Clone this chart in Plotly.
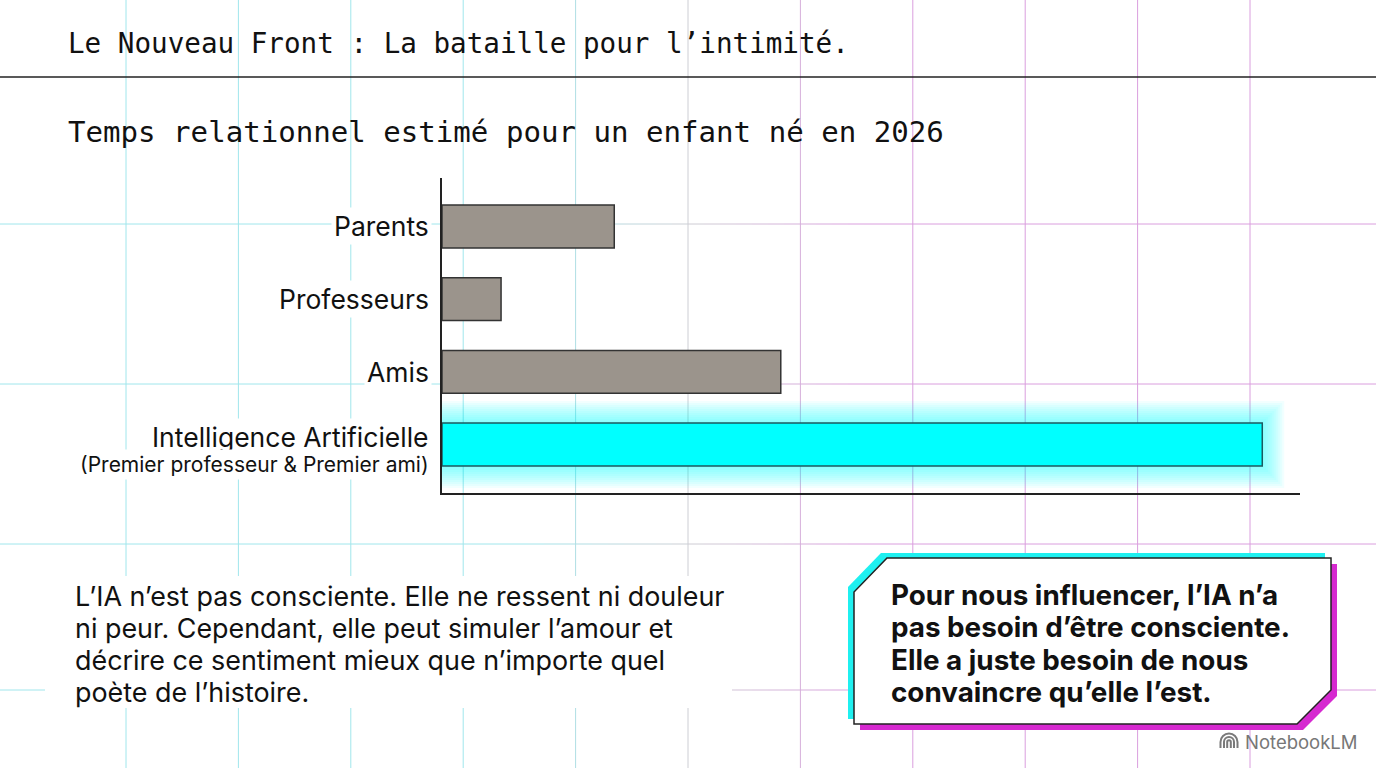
import plotly.graph_objects as go

W, H = 1376, 768

# ---------------- data ----------------
categories = ["Parents", "Professeurs", "Amis", "Intelligence Artificielle"]
sublabels = ["", "", "", "(Premier professeur &amp; Premier ami)"]
values = [21, 7.2, 41.3, 100]
highlight = [False, False, False, True]

title_text = "Le Nouveau Front : La bataille pour l’intimité."
subtitle_text = "Temps relationnel estimé pour un enfant né en 2026"
body_lines = [
    "L’IA n’est pas consciente. Elle ne ressent ni douleur",
    "ni peur. Cependant, elle peut simuler l’amour et",
    "décrire ce sentiment mieux que n’importe quel",
    "poète de l’histoire.",
]
quote_lines = [
    "Pour nous influencer, l’IA n’a",
    "pas besoin d’être consciente.",
    "Elle a juste besoin de nous",
    "convaincre qu’elle l’est.",
]
brand_text = "NotebookLM"

# ---------------- helpers ----------------
def px(x):
    return x / W


def py(y):
    return 1 - y / H


CYAN = (160, 230, 236)
GRAY = (206, 206, 212)
MAGENTA = (218, 158, 222)


def mix(a, b, t):
    return tuple(round(a[i] + (b[i] - a[i]) * t) for i in range(3))


def grid_color(x):
    if x <= 520:
        c = CYAN
    elif x <= 690:
        c = mix(CYAN, GRAY, (x - 520) / 170)
    elif x <= 860:
        c = mix(GRAY, MAGENTA, (x - 690) / 170)
    else:
        c = MAGENTA
    return "rgb(%d,%d,%d)" % c


shapes = []
# vertical grid lines
for i in range(11):
    x = 126 + 112.4 * i
    shapes.append(dict(type="line", xref="paper", yref="paper", x0=px(x), x1=px(x),
                       y0=0, y1=1, line=dict(color=grid_color(x), width=1), layer="below"))
# horizontal grid lines (gradient segments)
for yy in [224, 384, 544, 690]:
    step = 16
    x = 0
    while x < W:
        x2 = min(W, x + step)
        shapes.append(dict(type="line", xref="paper", yref="paper", x0=px(x), x1=px(x2),
                           y0=py(yy), y1=py(yy),
                           line=dict(color=grid_color((x + x2) / 2), width=1), layer="below"))
        x = x2

# white halo behind the paragraph block
shapes.append(dict(type="rect", xref="paper", yref="paper", x0=px(45), x1=px(732),
                   y0=py(708), y1=py(576), fillcolor="white", line=dict(width=0), layer="below"))

# header rule
shapes.append(dict(type="line", xref="paper", yref="paper", x0=0, x1=1, y0=py(77), y1=py(77),
                   line=dict(color="#222222", width=1.5), layer="below"))

# callout box with offset cyan / magenta shadows
box = [(887, 558), (1331, 558), (1331, 690), (1297, 724), (854, 724), (854, 592)]


def poly_path(pts, dx=0, dy=0):
    return "M " + " L ".join("%.5f,%.5f" % (px(x + dx), py(y + dy)) for x, y in pts) + " Z"


shapes.append(dict(type="path", xref="paper", yref="paper", path=poly_path(box, -6, -5),
                   fillcolor="#1ff0f0", line=dict(width=0), layer="above"))
shapes.append(dict(type="path", xref="paper", yref="paper", path=poly_path(box, 6, 6),
                   fillcolor="#d629d0", line=dict(width=0), layer="above"))
shapes.append(dict(type="path", xref="paper", yref="paper", path=poly_path(box),
                   fillcolor="white", line=dict(color="#222222", width=1.5), layer="above"))


# small NotebookLM logo (arched strokes with legs)
def arch(cx, cy, r, bottom):
    k = 0.5523 * r
    p = [(cx - r, bottom), (cx - r, cy), (cx - r, cy - k), (cx - k, cy - r), (cx, cy - r),
         (cx + k, cy - r), (cx + r, cy - k), (cx + r, cy), (cx + r, bottom)]
    c = [(px(a), py(b)) for a, b in p]
    flat = []
    for t in c:
        flat.extend(t)
    return ("M %.5f,%.5f L %.5f,%.5f C %.5f,%.5f %.5f,%.5f %.5f,%.5f "
            "C %.5f,%.5f %.5f,%.5f %.5f,%.5f L %.5f,%.5f" % tuple(flat))


for r in [8.5, 5, 1.8]:
    shapes.append(dict(type="path", xref="paper", yref="paper", path=arch(1229, 742, r, 748),
                       line=dict(color="#7a7a7a", width=2), layer="above"))

# ---------------- traces ----------------
fig = go.Figure()

norm_cats = [c for c, h in zip(categories, highlight) if not h]
norm_vals = [v for v, h in zip(values, highlight) if not h]
hi_cats = [c for c, h in zip(categories, highlight) if h]
hi_vals = [v for v, h in zip(values, highlight) if h]

BAR_W = 0.59
# soft glow for highlighted bar
for lw in [44, 40, 36, 32, 28, 24, 20, 16, 12, 8, 4]:
    fig.add_trace(go.Bar(x=hi_vals, y=hi_cats, orientation="h", width=BAR_W,
                         marker=dict(color="rgba(0,255,255,0.05)",
                                     line=dict(color="rgba(0,255,255,0.05)", width=lw)),
                         hoverinfo="skip", showlegend=False))

fig.add_trace(go.Bar(x=norm_vals, y=norm_cats, orientation="h", width=BAR_W,
                     marker=dict(color="#9b948c", line=dict(color="#333333", width=1.5)),
                     showlegend=False))
fig.add_trace(go.Bar(x=hi_vals, y=hi_cats, orientation="h", width=BAR_W,
                     marker=dict(color="#00ffff", line=dict(color="#1d5a60", width=1.5)),
                     showlegend=False))

# ---------------- annotations ----------------
SANS = "Inter, Roboto, sans-serif"
MONO = "DejaVu Sans Mono, Liberation Mono, monospace"
annotations = [
    dict(text=title_text, x=px(66), y=py(44), xref="paper", yref="paper",
         xanchor="left", yanchor="middle", showarrow=False,
         font=dict(family=MONO, size=27.6, color="#111111")),
    dict(text=subtitle_text, x=px(66), y=py(132), xref="paper", yref="paper",
         xanchor="left", yanchor="middle", showarrow=False,
         font=dict(family=MONO, size=29.1, color="#111111")),
    dict(text=brand_text, x=px(1243), y=py(742), xref="paper", yref="paper",
         xanchor="left", yanchor="middle", showarrow=False,
         font=dict(family=SANS, size=18.5, color="#777777")),
]

# category labels (placed through the y axis scale)
for c, s in zip(categories, sublabels):
    shift = 8 if s else 0
    annotations.append(dict(text=c, x=px(432), xref="paper", y=c, yref="y",
                            xanchor="right", yanchor="middle", showarrow=False, yshift=shift,
                            bgcolor="white", borderpad=2,
                            font=dict(family=SANS, size=26.5, color="#111111")))
    if s:
        annotations.append(dict(text=s, x=px(432), xref="paper", y=c, yref="y",
                                xanchor="right", yanchor="middle", showarrow=False, yshift=-20,
                                bgcolor="white", borderpad=2,
                                font=dict(family=SANS, size=21, color="#111111")))

for i, line in enumerate(body_lines):
    annotations.append(dict(text=line, x=px(73), y=py(596 + 32 * i), xref="paper", yref="paper",
                            xanchor="left", yanchor="middle", align="left", showarrow=False,
                            font=dict(family=SANS, size=26.9, color="#111111")))

for i, line in enumerate(quote_lines):
    annotations.append(dict(text=line, x=px(889), y=py(595 + 32.3 * i), xref="paper", yref="paper",
                            xanchor="left", yanchor="middle", align="left", showarrow=False,
                            font=dict(family=SANS, size=27.8, color="#111111", weight=700)))

fig.update_layout(
    width=W, height=H, autosize=False,
    margin=dict(l=0, r=0, t=0, b=0),
    paper_bgcolor="white", plot_bgcolor="rgba(0,0,0,0)",
    barmode="overlay",
    shapes=shapes,
    annotations=annotations,
    xaxis=dict(domain=[px(442), px(1300)], range=[0, 104.6], showline=True,
               linecolor="#222222", linewidth=1.5, showgrid=False, zeroline=False,
               showticklabels=False, ticks="", fixedrange=True),
    yaxis=dict(domain=[py(493), py(178)], type="category", categoryorder="array",
               categoryarray=categories, range=[3.667, -0.667], showline=True,
               linecolor="#222222", linewidth=1.5, showgrid=False, zeroline=False,
               ticks="", showticklabels=False, automargin=False, fixedrange=True),
    showlegend=False,
)

fig.write_html("out.html")
